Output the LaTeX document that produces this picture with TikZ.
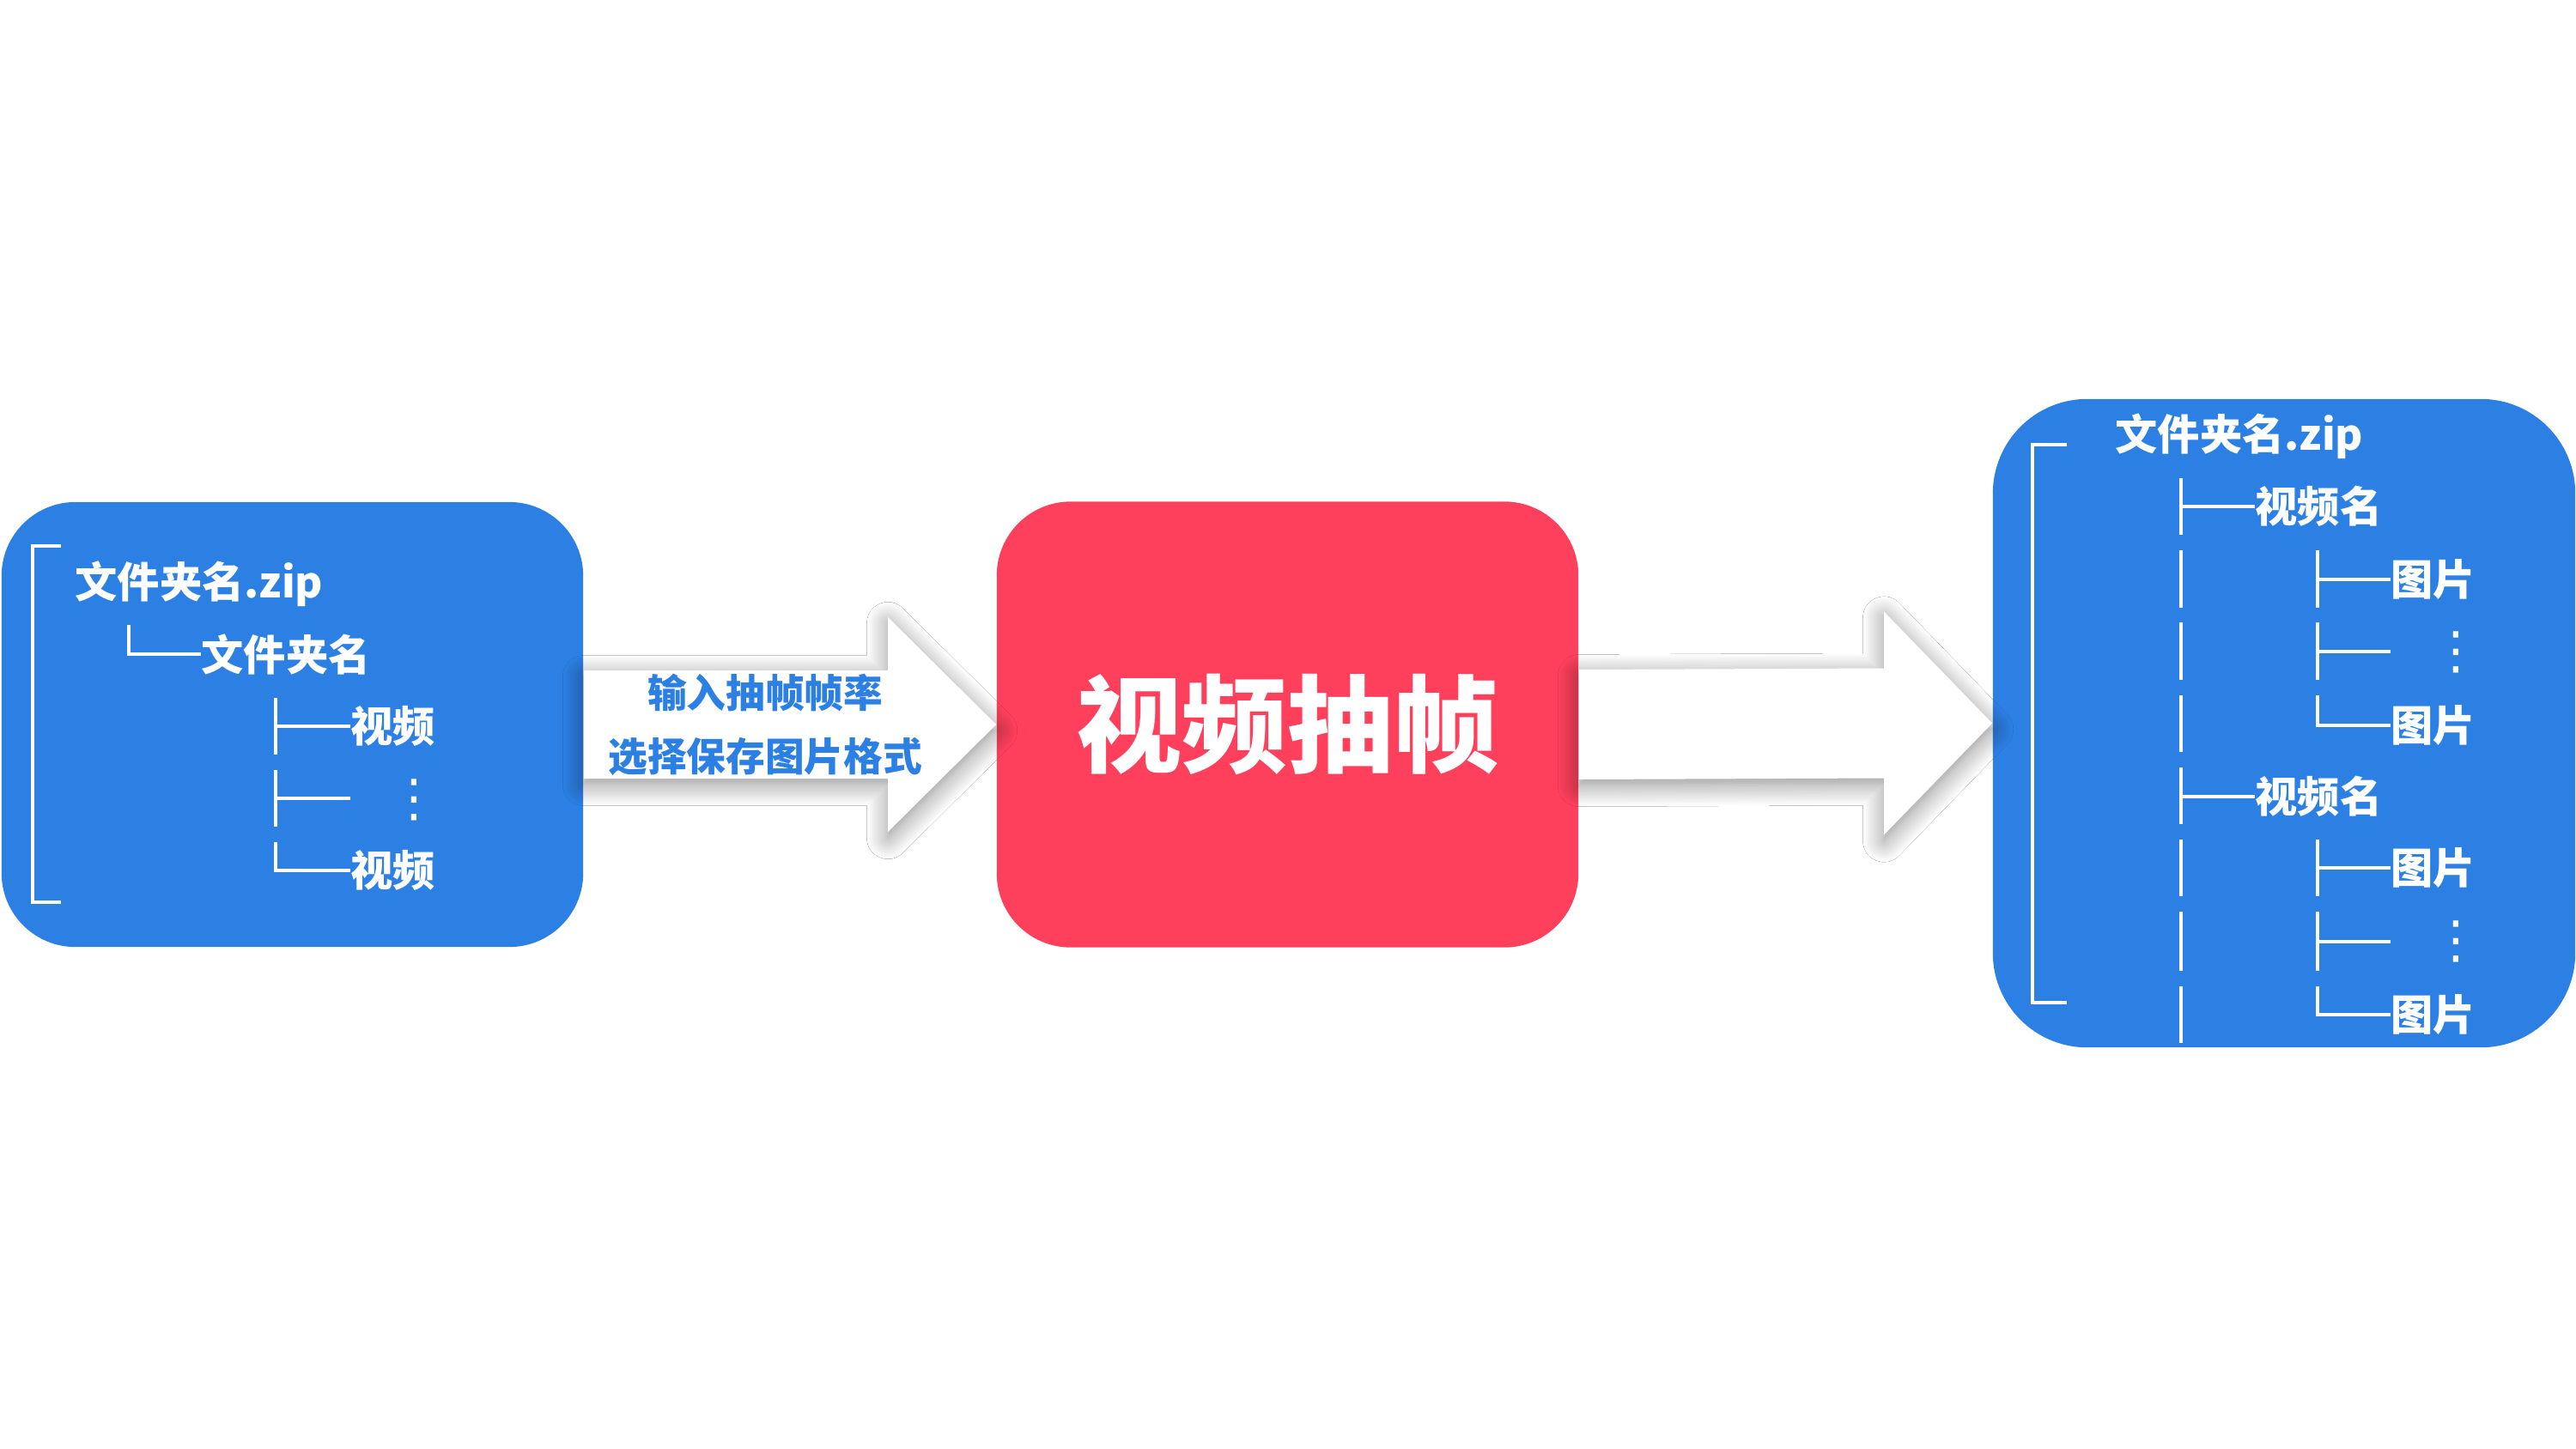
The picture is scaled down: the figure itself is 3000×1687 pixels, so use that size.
\documentclass[tikz,border=0pt]{standalone}
\usepackage{fontspec}
\newfontfamily\cjk{Noto Sans CJK SC}
\newfontfamily\symb{DejaVu Sans}
\usetikzlibrary{calc, shadows.blur}
\definecolor{boxblue}{RGB}{44,128,228}
\definecolor{framered}{RGB}{255,64,93}
\tikzset{
	bluebox/.style = {rectangle, fill=boxblue, inner sep=0pt},
	redbox/.style = {rectangle, rounded corners=0.86cm, fill=framered, inner sep=0pt, minimum width=6.77cm, minimum height=5.19cm, text=white, font=\cjk\bfseries\fontsize{35pt}{40pt}\selectfont},
	treetext/.style = {anchor=west, inner sep=0pt, text=white, font=\cjk\bfseries\fontsize{14pt}{16pt}\selectfont},
	dots/.style = {inner sep=0pt, text=white, font=\symb\fontsize{17pt}{20pt}\selectfont},
	treeline/.style = {draw=white, line width=1pt},
	bracket/.style = {draw=white, line width=0.9pt},
	bigarrow/.style = {fill=white, blur shadow={shadow xshift=0pt, shadow yshift=-2pt, shadow blur radius=7pt, shadow opacity=45, shadow blur steps=12}},
	arrowtext/.style = {inner sep=0pt, align=center, text=boxblue, font=\cjk\bfseries\fontsize{13pt}{21pt}\selectfont}
}
\begin{document}
\begin{tikzpicture}[x=0.01cm, y=-0.01cm]
		
		\fill[white] (0,0) rectangle (3000,1687);
		\useasboundingbox (0,0) rectangle (3000,1687);
		
		% Boxes
		\node (inbox) [bluebox, rounded corners=0.86cm, minimum width=6.77cm, minimum height=5.18cm] at (340.5,844) {};
		\node (frame) [redbox] at (1499.5,844) {视频抽帧};
		\node (outbox) [bluebox, rounded corners=1.1cm, minimum width=6.78cm, minimum height=7.55cm] at (2660,842.5) {};
		
		% Arrows
		\fill [bigarrow] ($(inbox.east)+(0,-63)$) -- ($(frame.west)+(-126,-63)$) -- ($(frame.west)+(-126,-125)$) -- (frame.west)
			-- ($(frame.west)+(-126,125)$) -- ($(frame.west)+(-126,63)$) -- ($(inbox.east)+(0,63)$) -- cycle;
		\fill [bigarrow] ($(frame.east)+(0,-64)$) -- ($(outbox.west)+(-126,-64)$) -- ($(outbox.west)+(-126,-130)$) -- (outbox.west)
			-- ($(outbox.west)+(-126,130)$) -- ($(outbox.west)+(-126,64)$) -- ($(frame.east)+(0,64)$) -- cycle;
		\path (inbox.east) -- node (settings) [arrowtext, pos=0.44] {输入抽帧帧率\\选择保存图片格式} (frame.west);
		
		% Input tree
		\draw [bracket] (71,636) -- (38,636) -- (38,1051) -- (71,1051);
		\node (zipin) [treetext] at (87,680) {文件夹名.zip};
		\node (dirin) [treetext] at (234,762) {文件夹名};
		\node (vid1) [treetext] at (408,846) {视频};
		\coordinate (gapin) at (408,930);
		\node (dotsin) [dots] at (482,932) {⋮};
		\node (vid2) [treetext] at (408,1014) {视频};
		
		\draw [treeline] (150,728) |- (dirin.west);
		\draw [treeline] (321,813) -- (321,879);
		\draw [treeline] (321,846) -- (vid1.west);
		\draw [treeline] (321,897) -- (321,963);
		\draw [treeline] (321,930) -- (gapin);
		\draw [treeline] (321,981) |- (vid2.west);
		
		% Output tree
		\draw [bracket] (2407,518) -- (2367,518) -- (2367,1168) -- (2407,1168);
		\node (zipout) [treetext] at (2463,508) {文件夹名.zip};
		\node (vname1) [treetext] at (2626,590) {视频名};
		\node (pic1) [treetext] at (2784,675) {图片};
		\coordinate (gapout1) at (2784,759);
		\node (dotsout1) [dots] at (2860,760) {⋮};
		\node (pic2) [treetext] at (2784,845) {图片};
		\node (vname2) [treetext] at (2626,928) {视频名};
		\node (pic3) [treetext] at (2784,1011) {图片};
		\coordinate (gapout2) at (2784,1097);
		\node (dotsout2) [dots] at (2860,1097) {⋮};
		\node (pic4) [treetext] at (2784,1182) {图片};
		
		\draw [treeline] (2540,557) -- (2540,623);
		\draw [treeline] (2540,590) -- (vname1.west);
		\draw [treeline] (2540,641) -- (2540,708);
		\draw [treeline] (2699,641) -- (2699,708);
		\draw [treeline] (2699,675) -- (pic1.west);
		\draw [treeline] (2540,725) -- (2540,792);
		\draw [treeline] (2699,725) -- (2699,792);
		\draw [treeline] (2699,759) -- (gapout1);
		\draw [treeline] (2540,810) -- (2540,876);
		\draw [treeline] (2699,810) |- (pic2.west);
		\draw [treeline] (2540,894) -- (2540,960);
		\draw [treeline] (2540,928) -- (vname2.west);
		\draw [treeline] (2540,978) -- (2540,1044);
		\draw [treeline] (2699,978) -- (2699,1044);
		\draw [treeline] (2699,1011) -- (pic3.west);
		\draw [treeline] (2540,1062) -- (2540,1131);
		\draw [treeline] (2699,1062) -- (2699,1131);
		\draw [treeline] (2699,1097) -- (gapout2);
		\draw [treeline] (2540,1149) -- (2540,1215);
		\draw [treeline] (2699,1149) |- (pic4.west);
		
	\end{tikzpicture}
\end{document}
